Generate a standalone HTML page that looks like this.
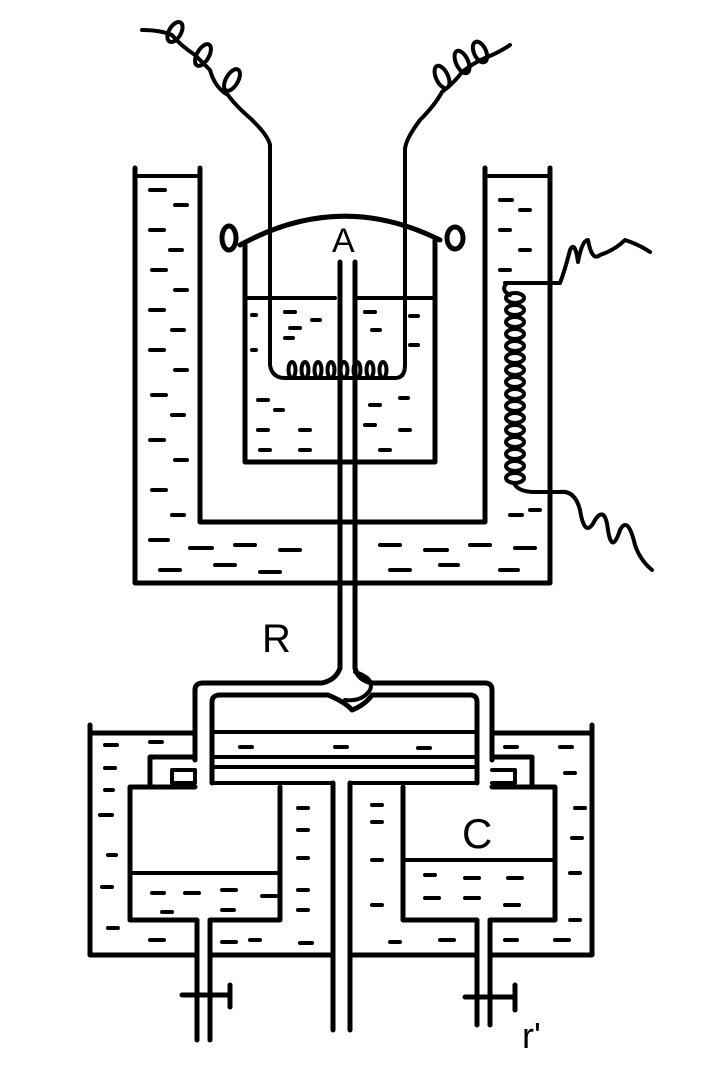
<!DOCTYPE html>
<html><head><style>html,body{margin:0;padding:0;background:#fff;width:708px;height:1079px;overflow:hidden}</style></head>
<body>
<svg width="708" height="1079" viewBox="0 0 708 1079" xmlns="http://www.w3.org/2000/svg" fill="none" stroke="#000" stroke-width="5" stroke-linejoin="round" stroke-linecap="round">
<!-- outer U bath -->
<path d="M135 168 V583 H550 V168"/>
<path d="M200 168 V522 H485 V168"/>
<path d="M135 176 H200 M485 176 H550" stroke-width="4"/>
<g stroke-width="4">
<path d="M150 190h15M175 205h12M150 230h14M170 250h12M152 270h14M175 290h12M150 310h14M172 330h12M150 350h14M175 370h12M152 395h14M172 415h12M150 440h14M175 460h12M152 490h14M172 515h12"/>
<path d="M150 540h18M190 548h22M235 545h20M280 550h20M380 545h20M425 550h22M470 545h20M515 548h20M160 570h20M215 565h20M260 572h20M390 570h20M440 565h18M500 570h18"/>
<path d="M500 200h12M520 210h10M500 230h10M520 250h10M500 270h10M510 515h12M530 510h10"/>
</g>
<!-- inner vessel A -->
<path d="M245 245 V462 H435 V240"/>
<path d="M245 298 H335 M358 298 H435" stroke-width="4"/>
<path d="M240 245 Q340 190 440 240"/>
<ellipse cx="229" cy="238" rx="7" ry="12"/>
<ellipse cx="455" cy="238" rx="8" ry="11"/>
<g stroke-width="4">
<path d="M252 315h4M285 312h10M312 320h8M365 312h10M410 316h8M290 328h10M372 330h8M285 338h8M252 350h4M410 345h8M258 400h10M275 410h8M370 405h10M400 398h8M258 430h10M300 430h10M365 425h10M400 430h10M260 450h10M300 450h10M380 450h10"/>
</g>
<!-- central tube -->
<path d="M340 262 V668 M355 262 V668"/>
<!-- wires with heater loops -->
<path d="M270 145 V365 Q272 378 285 378 H395 Q405 378 405 365 V150" stroke-width="4"/>
<g stroke-width="4">
<ellipse cx="292" cy="370" rx="3.5" ry="8"/><ellipse cx="305" cy="370" rx="3.5" ry="8"/><ellipse cx="318" cy="370" rx="3.5" ry="8"/><ellipse cx="331" cy="370" rx="3.5" ry="8"/><ellipse cx="344" cy="370" rx="3.5" ry="8"/><ellipse cx="357" cy="370" rx="3.5" ry="8"/><ellipse cx="370" cy="370" rx="3.5" ry="8"/><ellipse cx="383" cy="370" rx="3.5" ry="8"/>
</g>
<path d="M270 145 Q268 135 250 118 Q235 105 228 95 Q215 88 210 70 Q200 60 195 55 Q180 45 172 35 Q160 30 142 30" stroke-width="4"/>
<g stroke-width="4">
<ellipse cx="232" cy="80" rx="6" ry="12" transform="rotate(30 232 80)"/>
<ellipse cx="203" cy="55" rx="6" ry="12" transform="rotate(30 203 55)"/>
<ellipse cx="175" cy="32" rx="6" ry="11" transform="rotate(30 175 32)"/>
</g>
<path d="M405 150 Q405 140 420 120 Q435 105 442 92 Q455 82 462 72 Q475 62 485 58 Q500 52 510 45" stroke-width="4"/>
<g stroke-width="4">
<ellipse cx="442" cy="77" rx="6" ry="12" transform="rotate(-25 442 77)"/>
<ellipse cx="462" cy="62" rx="6" ry="12" transform="rotate(-25 462 62)"/>
<ellipse cx="480" cy="52" rx="6" ry="11" transform="rotate(-25 480 52)"/>
</g>
<!-- right coil -->
<path d="M505 283 H560 Q565 270 570 250 Q575 240 578 262 Q582 240 588 240 Q592 262 600 255 Q615 250 625 240 Q640 245 650 252" stroke-width="4"/>
<path d="M507 283 Q500 290 510 295" stroke-width="4"/>
<g stroke-width="4">
<ellipse cx="515" cy="298" rx="9" ry="5"/><ellipse cx="515" cy="310" rx="9" ry="5"/><ellipse cx="515" cy="322" rx="9" ry="5"/><ellipse cx="515" cy="334" rx="9" ry="5"/><ellipse cx="515" cy="346" rx="9" ry="5"/><ellipse cx="515" cy="358" rx="9" ry="5"/><ellipse cx="515" cy="370" rx="9" ry="5"/><ellipse cx="515" cy="382" rx="9" ry="5"/><ellipse cx="515" cy="394" rx="9" ry="5"/><ellipse cx="515" cy="406" rx="9" ry="5"/><ellipse cx="515" cy="418" rx="9" ry="5"/><ellipse cx="515" cy="430" rx="9" ry="5"/><ellipse cx="515" cy="442" rx="9" ry="5"/><ellipse cx="515" cy="454" rx="9" ry="5"/><ellipse cx="515" cy="466" rx="9" ry="5"/><ellipse cx="515" cy="478" rx="9" ry="5"/>
</g>
<path d="M515 485 Q520 492 535 492 H560 Q575 490 580 510 Q585 540 595 520 Q605 505 608 530 Q612 555 620 530 Q628 515 635 545 Q640 560 652 570" stroke-width="4"/>
<!-- labels -->
<text x="332" y="252" font-family="Liberation Sans, sans-serif" font-size="34" fill="#000" stroke="none">A</text>
<text x="262" y="652" font-family="Liberation Sans, sans-serif" font-size="40" fill="#000" stroke="none">R</text>
<text x="462" y="848" font-family="Liberation Sans, sans-serif" font-size="42" fill="#000" stroke="none">C</text>
<text x="522" y="1048" font-family="Liberation Sans, sans-serif" font-size="36" fill="#000" stroke="none">r'</text>
<!-- R loop pipe -->
<path d="M195 760 V690 Q195 683 203 683 H322 Q336 680 340 668 M355 668 Q358 680 372 683 H485 Q492 683 492 690 V760"/>
<path d="M212 783 V702 Q212 695 220 695 H328 Q345 702 352 710 Q365 705 372 695 H470 Q477 695 477 702 V783"/>
<path d="M355 672 Q375 678 370 690 Q362 702 345 700" stroke-width="4"/>
<!-- layers -->
<path d="M212 732 H477 M212 757 H477 M212 767 H477 M212 783 H333 M350 783 H477" stroke-width="4"/>
<!-- bottom tank -->
<path d="M90 725 V955 H197 M210 955 H333 M350 955 H477 M490 955 H592 V725"/>
<path d="M90 733 H195 M492 733 H592"/>
<!-- left chamber -->
<path d="M195 757 H150 V787 H130 V920 H197 V1040 M210 1040 V920 H280 V787 M130 787 H195"/>
<path d="M172 770 H195 V783 H172 Z" stroke-width="4"/>
<path d="M130 873 H280" stroke-width="4"/>
<!-- right chamber -->
<path d="M492 757 H532 V787 H555 V920 H490 V1025 M477 1025 V920 H403 V787 M492 787 H555"/>
<path d="M492 770 H515 V783 H492" stroke-width="4"/>
<path d="M403 860 H555" stroke-width="4"/>
<!-- central pipe -->
<path d="M333 783 V1030 M350 783 V1030"/>
<!-- dashes bottom -->
<g stroke-width="4">
<path d="M105 745h12M150 742h12M105 768h10M105 790h8M100 815h12M108 855h8M102 887h10M108 928h10M150 940h14M222 942h14M300 943h12M250 940h10M390 942h10M440 940h14M505 940h12M555 940h14M570 920h10M570 873h10M572 838h10M575 808h10M565 773h10M560 747h12M505 747h12"/>
<path d="M152 893h12M185 893h14M222 890h14M262 896h14M162 912h10M222 910h12M425 875h10M465 878h14M508 878h14M425 898h14M465 898h14M505 905h14"/>
<path d="M240 747h12M335 747h12M418 748h12M298 808h10M298 830h10M298 858h10M298 890h10M298 910h10M372 805h10M372 822h10M372 860h10M372 905h10"/>
</g>
<!-- valves -->
<path d="M182 995 H230 M230 985 V1007" stroke-width="5"/>
<path d="M465 997 H515 M515 985 V1010" stroke-width="5"/>
</svg>
</body></html>
